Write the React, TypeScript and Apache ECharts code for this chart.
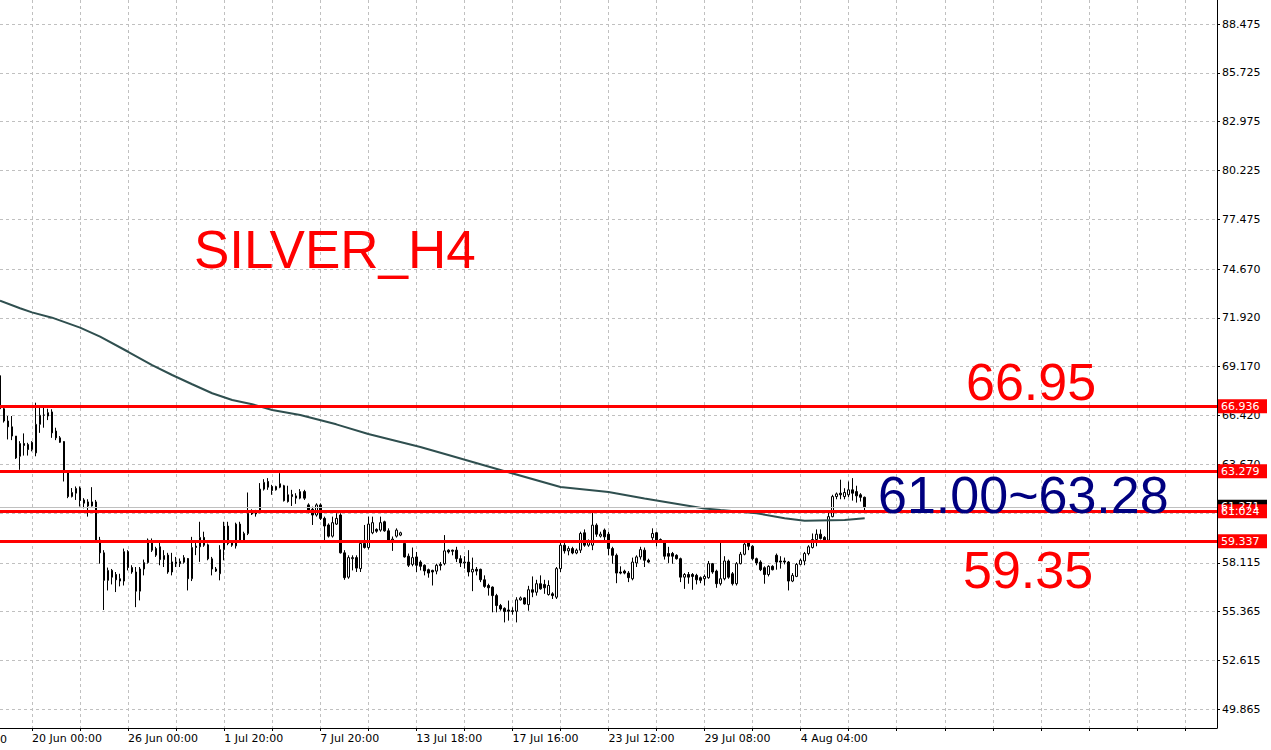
import React, { useEffect, useRef } from "react";
import * as echarts from "echarts";

// ---- candle data (H4 bars, oldest first) ----
const opens = [68.66,66.80,66.11,65.78,65.26,64.12,64.84,64.78,64.50,64.31,65.92,66.43,66.39,66.62,65.54,65.16,64.95,63.21,61.85,62.04,62.33,61.66,61.32,61.32,61.55,59.40,58.68,57.13,57.69,57.46,57.22,57.09,58.75,57.85,57.60,56.52,57.77,58.13,59.30,58.92,59.02,58.30,58.55,57.60,58.17,58.07,58.15,58.36,57.22,59.06,59.02,59.55,59.13,58.34,57.77,57.50,58.86,60.19,59.24,59.07,60.30,59.39,59.77,60.87,60.87,61.00,62.27,62.70,62.42,62.23,62.57,62.46,61.95,61.96,61.76,61.76,62.13,61.38,61.13,60.81,61.38,60.62,60.25,59.62,60.30,60.81,58.68,57.31,58.35,58.41,57.79,59.21,58.98,59.81,60.00,59.96,60.43,59.92,59.39,59.62,59.68,59.21,58.49,58.03,58.45,58.16,57.98,57.73,57.69,57.65,58.03,58.07,58.83,58.83,58.83,58.35,58.11,58.16,57.60,57.75,57.75,57.16,56.84,56.75,56.27,55.71,55.55,55.46,55.42,55.39,56.03,56.14,55.76,56.60,56.46,56.94,56.90,56.33,56.37,56.18,57.79,59.11,58.79,58.92,58.67,58.83,59.81,59.11,59.11,60.24,59.62,59.96,59.73,58.92,58.54,57.60,57.65,57.54,57.22,58.11,58.45,58.83,58.26,59.53,59.81,59.43,59.30,58.64,58.64,58.54,58.35,57.31,57.46,57.46,57.41,57.28,57.22,57.28,58.07,57.65,56.94,57.22,58.22,57.50,56.94,58.07,58.60,59.24,59.05,58.35,58.16,57.84,57.46,57.92,58.54,58.22,58.22,58.16,57.09,57.35,58.03,58.22,58.64,58.98,59.43,59.73,59.55,59.39,60.72,61.85,62.04,61.85,61.95,62.23,62.13,61.95,61.81];
const highs = [68.70,66.92,66.39,66.39,65.26,64.97,65.41,64.88,64.97,67.14,66.86,66.86,66.80,66.77,65.73,65.26,64.97,63.25,62.33,62.42,62.42,61.76,61.70,62.38,61.66,59.58,58.83,57.85,57.77,57.60,57.50,58.92,58.83,57.98,57.88,57.88,58.30,59.49,59.49,59.02,59.40,58.83,58.68,58.68,58.45,58.36,58.55,58.39,59.58,59.30,60.43,59.87,59.20,58.45,57.88,59.11,60.43,60.43,59.39,60.38,60.43,59.87,62.08,61.13,61.10,62.61,62.83,62.89,62.51,62.46,63.17,62.51,62.46,62.23,62.04,62.27,62.23,61.47,61.28,61.47,61.47,60.72,60.34,60.72,60.91,60.91,58.83,58.54,58.54,58.54,59.30,60.25,60.72,60.72,60.06,60.72,60.49,60.06,59.60,60.06,59.87,59.30,58.64,58.98,58.73,58.26,58.03,57.79,57.73,58.07,58.16,59.68,58.88,58.86,59.02,58.54,58.49,58.83,58.41,57.88,57.79,57.41,56.94,56.79,56.37,55.80,55.61,55.99,55.61,56.18,56.22,56.18,56.82,57.35,57.16,57.41,57.16,57.13,56.46,57.88,59.24,59.24,59.05,59.02,58.92,59.87,60.00,59.43,60.94,60.34,59.87,60.05,59.87,59.02,58.64,57.92,57.73,57.65,58.41,58.54,59.02,58.98,58.35,60.06,59.87,59.49,59.36,59.02,58.73,58.60,58.41,57.54,57.60,57.54,57.50,57.35,57.46,58.22,58.11,57.73,59.24,58.49,58.30,57.60,58.16,58.73,59.30,59.30,59.11,58.41,58.26,57.92,57.98,57.98,58.64,58.49,58.41,58.22,57.54,58.11,58.35,58.73,59.11,59.77,60.00,60.00,59.62,61.09,61.95,62.08,62.80,62.32,62.70,62.89,62.46,62.04,61.85];
const lows = [66.70,66.02,65.07,65.03,63.97,63.36,64.16,64.16,64.40,64.12,65.44,65.73,66.16,65.16,65.03,64.88,62.70,61.76,61.80,61.66,61.29,61.19,60.72,61.29,59.30,58.07,55.46,56.56,56.90,56.47,56.79,56.84,57.69,57.50,55.62,56.00,57.41,58.07,58.73,58.45,57.98,57.88,57.50,57.41,57.88,57.88,58.07,56.56,57.09,58.55,58.17,59.02,58.26,57.41,57.60,57.13,58.26,59.11,59.02,58.92,59.30,59.30,59.68,60.81,60.72,60.91,62.19,62.23,61.95,62.19,62.32,61.57,61.51,61.32,61.44,61.70,61.66,60.91,60.25,60.72,60.53,59.39,59.54,59.54,60.25,58.64,57.16,57.22,57.69,57.60,57.60,58.92,58.86,59.73,59.81,59.87,59.87,59.30,58.79,59.54,59.62,58.41,57.88,57.92,57.60,57.69,57.41,57.28,56.84,57.47,57.69,57.98,58.64,58.54,58.16,57.88,57.79,57.35,56.52,57.41,57.03,56.71,56.27,55.33,55.33,55.42,54.76,54.86,55.20,54.76,55.99,55.76,55.42,56.18,56.27,56.60,56.37,56.27,56.08,56.08,57.60,58.64,58.54,58.60,58.60,58.67,59.02,59.02,58.83,59.58,59.54,59.30,58.54,58.07,56.97,57.47,57.47,57.03,57.13,57.88,58.30,57.88,58.11,59.36,59.05,59.30,58.30,58.11,58.07,58.30,57.03,56.65,56.94,56.60,56.90,56.97,56.84,57.22,57.50,56.71,56.84,57.13,57.22,56.84,56.84,58.03,58.54,58.83,58.26,57.98,57.65,56.94,57.35,57.69,57.73,57.79,58.03,56.56,57.03,57.31,57.98,57.98,58.54,58.92,59.05,59.43,59.36,59.36,60.68,61.70,61.70,61.70,61.81,61.62,61.51,61.57,61.09];
const closes = [66.80,66.11,65.78,65.26,64.03,64.84,64.73,64.50,64.91,65.92,66.43,66.45,66.58,65.44,65.16,64.91,63.27,61.85,62.08,62.31,61.63,61.48,61.55,61.55,59.40,58.68,57.13,57.69,57.31,57.16,57.09,58.75,57.85,57.60,56.52,57.77,58.13,59.40,58.83,58.55,58.30,58.53,57.60,58.17,58.07,58.20,58.41,57.22,58.98,58.98,59.55,59.11,58.34,57.77,57.65,58.86,60.19,59.21,59.11,60.30,59.39,59.77,60.91,61.06,60.96,62.27,62.65,62.38,62.19,62.42,62.38,61.62,61.57,61.85,61.89,62.13,61.76,61.06,60.81,61.38,60.62,60.19,59.62,60.38,60.62,58.68,57.28,58.41,58.41,57.82,59.21,58.98,60.30,60.38,59.90,60.38,59.92,59.39,59.45,59.96,59.81,58.45,57.98,58.41,57.98,57.92,57.66,57.54,57.60,57.98,57.96,58.79,58.73,58.77,58.35,58.11,58.16,57.60,57.75,57.65,57.16,56.79,56.71,56.27,55.71,55.52,55.37,55.39,55.37,56.03,56.14,55.80,56.60,56.46,56.94,56.65,56.71,56.84,56.27,57.79,59.11,58.79,58.92,58.67,58.83,59.77,59.11,59.30,60.24,59.73,59.73,59.58,58.92,58.54,57.54,57.54,57.54,57.28,58.16,58.45,58.86,58.26,58.16,59.77,59.39,59.36,58.49,58.49,58.49,58.35,57.31,57.46,57.31,57.35,57.16,57.13,57.35,58.07,57.60,56.94,57.22,58.22,57.31,56.94,58.07,58.60,59.17,59.05,58.35,58.11,57.73,57.46,57.92,57.73,58.16,58.16,58.16,57.09,57.41,58.03,58.26,58.64,59.02,59.43,59.73,59.49,59.39,60.72,61.85,62.00,61.95,62.08,62.23,62.04,61.89,61.81,61.27];

// ---- moving average readings (bar index, value) ----
const maIndex = [0, 5, 8, 13, 20, 25, 32, 38, 43, 48, 53, 58, 63, 68, 75, 84, 92, 105, 112, 125, 140, 152, 161, 176, 180, 189, 196, 201, 211, 216];
const maValues = [72.89, 72.46, 72.23, 71.93, 71.37, 70.86, 70.01, 69.26, 68.70, 68.18, 67.67, 67.29, 67.05, 66.73, 66.45, 65.92, 65.38, 64.64, 64.19, 63.35, 62.39, 62.11, 61.74, 61.18, 61.09, 60.91, 60.63, 60.49, 60.53, 60.63];

// ---- levels ----
const levelValues = [66.936, 63.279, 61.024, 59.337];
const lastPrice = 61.271;

// ---- axis ticks ----
const slotCount = 305;
const firstLabelIndex = 8;
const xTickLabels = ["20 Jun 00:00", "26 Jun 00:00", "1 Jul 20:00", "7 Jul 20:00", "13 Jul 18:00", "17 Jul 16:00", "23 Jul 12:00", "29 Jul 08:00", "4 Aug 04:00"];
const yTicks = [49.865, 52.615, 55.365, 58.115, 60.92, 63.67, 66.42, 69.17, 71.92, 74.67, 77.475, 80.225, 82.975, 85.725, 88.475];
// 60.920 sits fully under the price tags in the reference, so its label is not drawn
const yLabelTicks = [49.865, 52.615, 55.365, 58.115, 63.67, 66.42, 69.17, 71.92, 74.67, 77.475, 80.225, 82.975, 85.725, 88.475];

const categories = Array.from({ length: slotCount }, (_, i) => String(i));

const AXIS_FONT = "DejaVu Sans";
const BIG_FONT = "Liberation Sans";

export default function App() {
  const ref = useRef<HTMLDivElement>(null);

  useEffect(() => {
    if (!ref.current) return;
    const chart = echarts.init(ref.current, undefined, { renderer: "svg" });

    const isGrid = (index: number) => index >= firstLabelIndex && (index - firstLabelIndex) % 12 === 0;
    const isLabel = (index: number) =>
      index >= firstLabelIndex && (index - firstLabelIndex) % 24 === 0 && (index - firstLabelIndex) / 24 < xTickLabels.length;

    const candleData = opens.map((o, i) => [o, closes[i], lows[i], highs[i]]);
    const maData = maIndex.map((idx, i) => [idx, maValues[i]]);

    const option: any = {
      animation: false,
      grid: { left: 0, right: 54, top: 0, bottom: 22, containLabel: false },
      xAxis: {
        type: "category",
        data: categories,
        boundaryGap: false,
        axisLine: { show: true, lineStyle: { color: "#000000", width: 1 } },
        axisTick: { show: true, length: 3, interval: isGrid, lineStyle: { color: "#000000" } },
        axisLabel: {
          interval: isLabel,
          formatter: (_v: string, index: number) => xTickLabels[(index - firstLabelIndex) / 24] || "",
          align: "left",
          color: "#000000",
          fontFamily: AXIS_FONT,
          fontSize: 11,
          margin: 5,
        },
        splitLine: { show: true, interval: isGrid, lineStyle: { color: "#C0C0C0", type: [3, 3], width: 1 } },
      },
      yAxis: {
        type: "value",
        position: "right",
        min: 48.81,
        max: 89.83,
        axisLine: { show: true, lineStyle: { color: "#000000", width: 1 } },
        axisTick: { show: true, length: 3, customValues: yTicks, lineStyle: { color: "#000000" } },
        axisLabel: {
          customValues: yLabelTicks,
          formatter: (v: number) => v.toFixed(3),
          color: "#000000",
          fontFamily: AXIS_FONT,
          fontSize: 11,
          margin: 5,
        },
        splitLine: { show: true, lineStyle: { color: "#C0C0C0", type: [3, 3], width: 1 } },
      },
      series: [
        {
          type: "candlestick",
          data: candleData,
          barWidth: 2,
          itemStyle: {
            color: "#FFFFFF",
            color0: "#000000",
            borderColor: "#000000",
            borderColor0: "#000000",
            borderWidth: 1,
          },
          z: 2,
        },
        {
          type: "line",
          data: maData,
          showSymbol: false,
          symbol: "none",
          lineStyle: { color: "#2F4F4F", width: 2 },
          z: 3,
          markLine: {
            silent: true,
            symbol: ["none", "none"],
            label: { show: false },
            data: [
              { yAxis: lastPrice, lineStyle: { color: "#C0C0C0", width: 1, type: "solid" } },
              ...levelValues.map((v) => ({ yAxis: v, lineStyle: { color: "#FF0000", width: 3, type: "solid" } })),
            ],
          },
        },
      ],
    };

    chart.setOption(option);

    const tag = (v: number, bg: string) => {
      const py = chart.convertToPixel({ yAxisIndex: 0 }, v) as number;
      return [
        { type: "rect", z: 100, shape: { x: 1218, y: py - 7, width: 49, height: 14 }, style: { fill: bg } },
        {
          type: "text",
          z: 101,
          x: 1221,
          y: py,
          style: { text: v.toFixed(3), fill: "#FFFFFF", font: `11px '${AXIS_FONT}'`, verticalAlign: "middle", align: "left" },
        },
      ];
    };

    const bigText = (text: string, x: number, y: number, color: string, size = 52) => ({
      type: "text",
      z: 120,
      x,
      y,
      style: { text, fill: color, font: `${size}px '${BIG_FONT}'`, verticalAlign: "middle", align: "left" },
    });

    const graphics: any[] = [
      ...tag(lastPrice, "#000000"),
      ...levelValues.flatMap((v) => tag(v, "#FF0000")),
      bigText("SILVER_H4", 194, 249, "#FF0000", 53),
      bigText("66.95", 966, 382, "#FF0000"),
      bigText("61.00~63.28", 878, 495, "#000080"),
      bigText("59.35", 963, 570, "#FF0000"),
      {
        type: "text",
        z: 100,
        x: 0,
        y: 739,
        style: { text: "0", fill: "#000000", font: `11px '${AXIS_FONT}'`, verticalAlign: "middle", align: "left" },
      },
    ];

    chart.setOption({ graphic: graphics });

    return () => chart.dispose();
  }, []);

  return (
    <div
      ref={ref}
      style={{ position: "fixed", left: 0, top: 0, width: 1271, height: 750, background: "#FFFFFF" }}
    />
  );
}
